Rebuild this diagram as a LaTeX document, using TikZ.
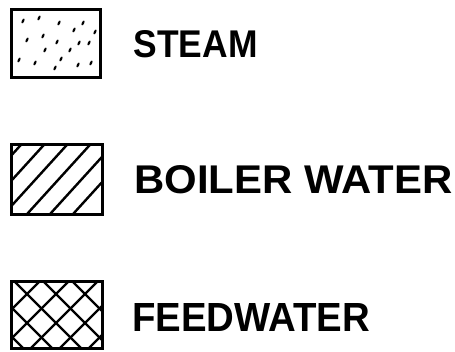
\documentclass[tikz,border=0pt]{standalone}
\usepackage{fontspec}
\setmainfont{Liberation Sans}
\usepackage{graphicx}
\usetikzlibrary{positioning}
\definecolor{ink}{HTML}{000000}
\tikzset{
  swatch/.style={draw=ink,line width=3pt,minimum width=89pt,minimum height=68pt,
    inner sep=0pt,outer sep=0pt,fill=white},
  hatch/.style={draw=ink,line width=2.4pt,line cap=round},
  speck/.style={fill=ink},
  lbl/.style={anchor=west,inner sep=0pt,text=ink,font=\bfseries}
}
\begin{document}
\begin{tikzpicture}[x=1pt,y=-1pt]
  \useasboundingbox (0,0) rectangle (455,352);
  \node[swatch] (steam) at (56,43.5) {};
  \node[swatch,minimum width=91pt,minimum height=70pt] (boil) at (56.5,180) {};
  \node[swatch,minimum width=91pt,minimum height=67pt] (feed) at (56.5,315.5) {};
  % dots for steam
  \foreach \x/\y in {23/21,39/18,59/23,83/23,74/30,95/32,27/40,43/36,57/42,79/43,89/43,
    45/50,70/50,19/60,35/63,61/59,55/68,78/65,91/63}{
    \fill[speck,shift={(\x,\y)},rotate=-25] (0,0) ellipse (1.2pt and 2.6pt);}
  % single hatch
  \begin{scope}
    \clip (boil.south west) rectangle (boil.north east);
    \foreach \c in {-11,12,35,58,81,104}{\draw[hatch] ({\c-40},224) -- ({\c+40},136);}
  \end{scope}
  % cross hatch
  \begin{scope}
    \clip (feed.south west) rectangle (feed.north east);
    \foreach \c in {38,67,96,125,154}{\draw[hatch] ({\c+10},273) -- ({\c-80},363);}
    \foreach \c in {-42,-13,16,45,74}{\draw[hatch] ({\c-10},273) -- ({\c+80},363);}
  \end{scope}
  \node[swatch,fill=none] at (boil) [minimum width=91pt,minimum height=70pt] {};
  \node[swatch,fill=none] at (feed) [minimum width=91pt,minimum height=67pt] {};
  \node[lbl,right=33pt of steam,yshift=-1pt] (tsteam) {\resizebox{124pt}{27pt}{STEAM}};
  \node[lbl,right=32pt of boil] (tboil) {\resizebox{318pt}{28pt}{BOILER WATER}};
  \node[lbl,right=30pt of feed,yshift=-2pt] (tfeed) {\resizebox{238pt}{28pt}{FEEDWATER}};
\end{tikzpicture}
\end{document}
